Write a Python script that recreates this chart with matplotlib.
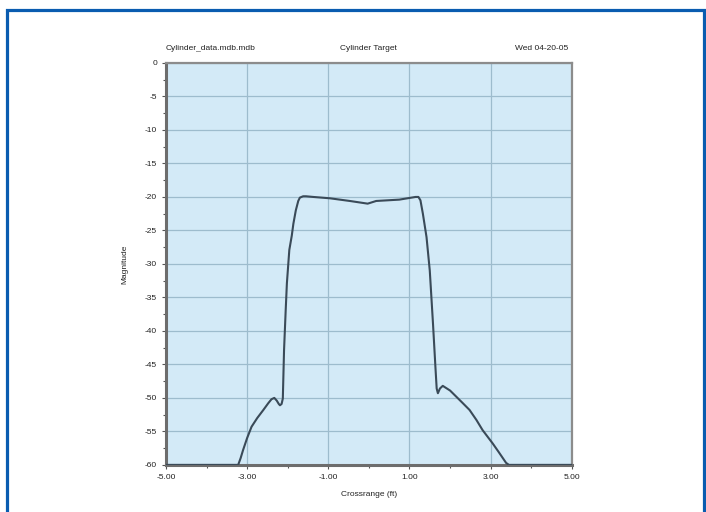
import matplotlib
matplotlib.use("Agg")
import matplotlib.pyplot as plt
from matplotlib.patches import Rectangle
from matplotlib.ticker import MultipleLocator

# crossrange (ft) vs magnitude
crossrange = [-5.0, -4.0, -3.5, -3.22, -3.16, -3.10, -3.00, -2.89, -2.75, -2.60,
              -2.48, -2.40, -2.33, -2.27, -2.22, -2.19, -2.15, -2.12, -2.09, -2.05,
              -2.02, -1.96, -1.90, -1.86, -1.80, -1.74, -1.70, -1.62, -1.55, -1.37,
              -0.96, -0.47, -0.03, 0.18, 0.75, 1.15, 1.22, 1.27, 1.33, 1.42,
              1.50, 1.58, 1.64, 1.67, 1.70, 1.75, 1.82, 2.00, 2.15, 2.30,
              2.48, 2.65, 2.80, 3.05, 3.20, 3.38, 3.45, 4.0, 5.0]
magnitude = [-60.0, -60.0, -60.0, -60.0, -59.0, -57.8, -56.0, -54.3, -53.0, -51.8,
             -50.8, -50.2, -50.0, -50.4, -50.9, -51.1, -50.9, -50.1, -42.9, -37.0,
             -32.9, -27.9, -25.8, -24.0, -22.0, -20.6, -20.1, -19.9, -19.9, -20.0,
             -20.2, -20.6, -21.0, -20.6, -20.4, -20.0, -20.0, -20.5, -22.5, -26.0,
             -31.0, -39.0, -45.5, -48.6, -49.3, -48.6, -48.2, -48.9, -49.8, -50.7,
             -51.8, -53.3, -54.8, -56.8, -58.1, -59.7, -60.0, -60.0, -60.0]

x_ticks = [-5, -3, -1, 1, 3, 5]
x_tick_labels = ["-5.00", "-3.00", "-1.00", "1.00", "3.00", "5.00"]
y_ticks = list(range(0, -65, -5))

plt.rcParams["font.family"] = ["Liberation Sans", "DejaVu Sans"]
plt.rcParams["axes.unicode_minus"] = False

fig = plt.figure(figsize=(7.06, 5.12), dpi=100)
fig.patch.set_facecolor("white")
ax = fig.add_axes([0.235, 0.092, 0.575, 0.785])
ax.set_facecolor("#d3eaf7")

ax.plot(crossrange, magnitude, color="#3a4a58", linewidth=1.5, zorder=3)

ax.set_xlim(-5, 5)
ax.set_ylim(-60, 0)
ax.set_xticks(x_ticks)
ax.set_xticklabels(x_tick_labels)
ax.set_yticks(y_ticks)
ax.xaxis.set_minor_locator(MultipleLocator(1))
ax.yaxis.set_minor_locator(MultipleLocator(2.5))
ax.grid(True, which="major", color="#9dbccd", linewidth=0.9)
ax.set_axisbelow(True)

ax.tick_params(which="both", direction="out", colors="#555555", labelcolor="#222222",
               labelsize=6, length=3, width=0.8)
ax.tick_params(which="minor", length=2.5)

for side in ["left", "bottom"]:
    ax.spines[side].set_color("#6d6d6d")
    ax.spines[side].set_linewidth(2.2)
for side in ["right", "top"]:
    ax.spines[side].set_color("#8c8c8c")
    ax.spines[side].set_linewidth(1.6)

ax.set_xlabel("Crossrange (ft)", fontsize=6, color="#222222", labelpad=7)
ax.set_ylabel("Magnitude", fontsize=6, color="#222222", labelpad=12)

ax.text(0.0, 1.028, "Cylinder_data.mdb.mdb", transform=ax.transAxes,
        fontsize=6, ha="left", va="bottom", color="#222222")
ax.text(0.5, 1.028, "Cylinder Target", transform=ax.transAxes,
        fontsize=6, ha="center", va="bottom", color="#222222")
ax.text(0.925, 1.028, "Wed 04-20-05", transform=ax.transAxes,
        fontsize=6, ha="center", va="bottom", color="#222222")

# blue frame around the figure
frame = Rectangle((7 / 706, -0.1), 697 / 706, 1.1 - 9.5 / 512,
                  transform=fig.transFigure, fill=False,
                  edgecolor="#0a5cb0", linewidth=2.3, clip_on=False)
fig.add_artist(frame)

fig.savefig("out.png", dpi=100)
